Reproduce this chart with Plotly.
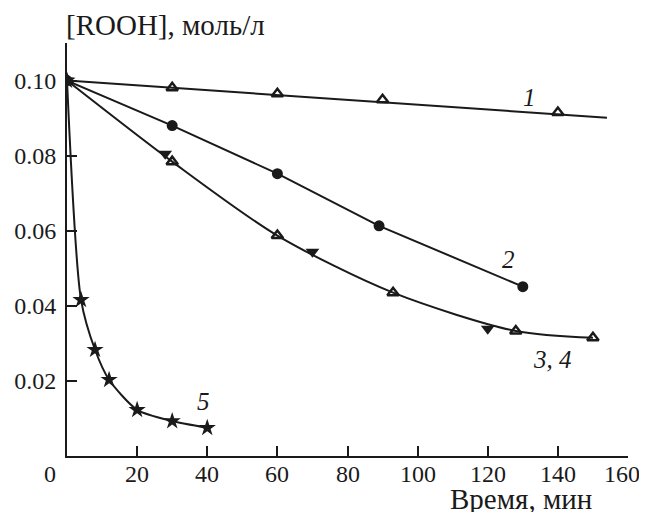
import plotly.graph_objects as go

# Data (time, min; [ROOH], mol/l)
s1_x = [0, 30, 60, 90, 140]
s1_y = [0.100, 0.0981, 0.0965, 0.0949, 0.0915]
fit1_x = [0, 154]
fit1_y = [0.100, 0.0901]

s2_x = [0, 30, 60, 89, 130]
s2_y = [0.100, 0.0880, 0.0752, 0.0613, 0.0451]

s3_x = [0, 30, 60, 93, 128, 150]
s3_y = [0.100, 0.0784, 0.0587, 0.0435, 0.0333, 0.0315]

s4_x = [0, 28, 70, 120]
s4_y = [0.100, 0.0805, 0.0544, 0.0339]

s5_x = [0, 4, 8, 12, 20, 30, 40]
s5_y = [0.100, 0.0416, 0.0283, 0.0203, 0.0123, 0.0093, 0.0075]

x_ticks = [0, 20, 40, 60, 80, 100, 120, 140, 160]
y_ticks = [0.02, 0.04, 0.06, 0.08, 0.10]

curve_labels = ["1", "2", "3, 4", "5"]
label_x = [132, 126, 138.6, 39]
label_y = [0.0955, 0.0523, 0.0256, 0.0144]

FONT = "Liberation Serif"
BLACK = "#1a1a1a"
TICK_SIZE = 24
TITLE_SIZE = 29

fig = go.Figure()

# curves
fig.add_trace(go.Scatter(x=fit1_x, y=fit1_y, mode="lines",
                         line=dict(color=BLACK, width=2), showlegend=False))
fig.add_trace(go.Scatter(x=s2_x, y=s2_y, mode="lines",
                         line=dict(color=BLACK, width=2), showlegend=False))
fig.add_trace(go.Scatter(x=s3_x, y=s3_y, mode="lines",
                         line=dict(color=BLACK, width=2, shape="spline", smoothing=0.8),
                         showlegend=False))
fig.add_trace(go.Scatter(x=s5_x, y=s5_y, mode="lines",
                         line=dict(color=BLACK, width=2, shape="spline", smoothing=0.7),
                         showlegend=False))

# markers
fig.add_trace(go.Scatter(x=s1_x, y=s1_y, mode="markers", showlegend=False,
                         marker=dict(symbol="triangle-up-open", size=10, color=BLACK,
                                     line=dict(width=2.5, color=BLACK))))
fig.add_trace(go.Scatter(x=s2_x, y=s2_y, mode="markers", showlegend=False,
                         marker=dict(symbol="circle", size=11, color=BLACK)))
fig.add_trace(go.Scatter(x=s4_x, y=s4_y, mode="markers", showlegend=False,
                         marker=dict(symbol="triangle-down", size=12, color=BLACK)))
fig.add_trace(go.Scatter(x=s3_x, y=s3_y, mode="markers", showlegend=False,
                         marker=dict(symbol="triangle-up-open", size=10, color=BLACK,
                                     line=dict(width=2.5, color=BLACK))))
fig.add_trace(go.Scatter(x=s5_x, y=s5_y, mode="markers", showlegend=False,
                         marker=dict(symbol="star", size=13, color=BLACK)))

for t, lx, ly in zip(curve_labels, label_x, label_y):
    fig.add_annotation(x=lx, y=ly, text=f"<i>{t}</i>", showarrow=False,
                       font=dict(family=FONT, size=25, color=BLACK))

# x tick labels (placed close under the axis; "0" shifted left as in the original,
# the last one nudged left so it stays inside the visible window)
for v in x_ticks:
    shift = -17 if v == 0 else (-6 if v == x_ticks[-1] else 0)
    fig.add_annotation(x=v, y=0, text=str(v), showarrow=False,
                       xshift=shift, yshift=-18,
                       font=dict(family=FONT, size=TICK_SIZE, color=BLACK))

# axis titles
fig.add_annotation(xref="paper", yref="paper", x=0, y=1, xshift=-3, yshift=18,
                   xanchor="left", yanchor="middle", showarrow=False,
                   text="[ROOH], моль/л", font=dict(family=FONT, size=TITLE_SIZE, color=BLACK))
fig.add_annotation(xref="paper", yref="paper", x=1, y=0, xshift=-34, yshift=-43,
                   xanchor="right", yanchor="middle", showarrow=False,
                   text="Время, мин", font=dict(family=FONT, size=TITLE_SIZE, color=BLACK))

fig.update_xaxes(range=[0, 160], tickvals=x_ticks[1:], ticks="inside", ticklen=10,
                 tickwidth=1.5, tickcolor=BLACK, showline=True, linecolor=BLACK,
                 linewidth=2, showgrid=False, zeroline=False, automargin=False,
                 showticklabels=False)
fig.update_yaxes(range=[0, 0.110], tickvals=y_ticks, tickformat=".2f",
                 ticks="inside", ticklen=10, tickwidth=1.5, tickcolor=BLACK,
                 showline=True, linecolor=BLACK, linewidth=2, showgrid=False,
                 zeroline=False, automargin=False, ticklabelstandoff=4,
                 tickfont=dict(family=FONT, size=TICK_SIZE, color=BLACK))

# page has an 8px body margin: size the figure so it fits the 647x512 window
fig.update_layout(width=639, height=504, plot_bgcolor="white", paper_bgcolor="white",
                  margin=dict(l=59, r=19, t=35, b=56), showlegend=False)

fig.write_html("out.html")
